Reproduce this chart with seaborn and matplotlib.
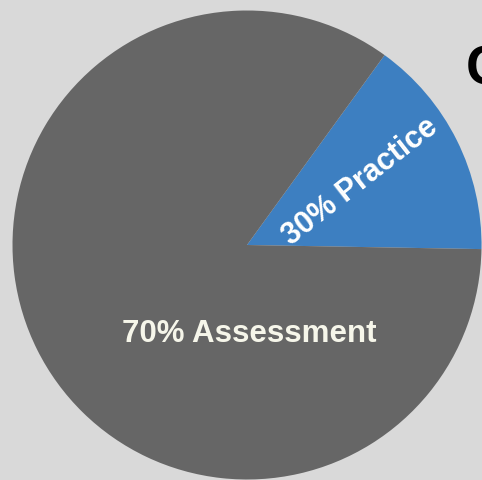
import seaborn as sns
import matplotlib.pyplot as plt

# slice shares as drawn in the picture, with the printed labels
categories = ['Practice', 'Assessment']
shares = [15.3, 84.7]
label_texts = ['30% Practice', '70% Assessment']
title_text = 'C'

sns.set_theme(style='white', rc={'figure.facecolor': '#d9d9d9', 'axes.facecolor': '#d9d9d9'})
plt.rcParams['font.family'] = ['Liberation Sans', 'DejaVu Sans']

colors = ['#3d7fc1', '#666666']

fig = plt.figure(figsize=(4.82, 4.81), dpi=100)
ax = fig.add_axes([12.5 / 482, 0.5 / 481, 469 / 482, 469 / 481])
ax.pie(shares, colors=colors, startangle=-1, counterclock=True,
       wedgeprops={'linewidth': 0})
ax.set_xlim(-1, 1)
ax.set_ylim(-1, 1)
ax.set_aspect('equal')
ax.axis('off')

# labels inside the slices
ax.text(0.485, 0.272, label_texts[0], color='white', fontsize=22, fontweight='bold',
        rotation=38, ha='center', va='center', rotation_mode='anchor')
ax.text(0.01, -0.375, label_texts[1], color='#f6f6ea', fontsize=22.5, fontweight='bold',
        ha='center', va='center')

# title, cut off at the right edge
fig.text(466 / 482, 1 - 85 / 481, title_text, color='black', fontsize=40,
         fontweight='bold', ha='left', va='baseline')

fig.savefig('out.png', dpi=100, facecolor=fig.get_facecolor())
plt.close()
